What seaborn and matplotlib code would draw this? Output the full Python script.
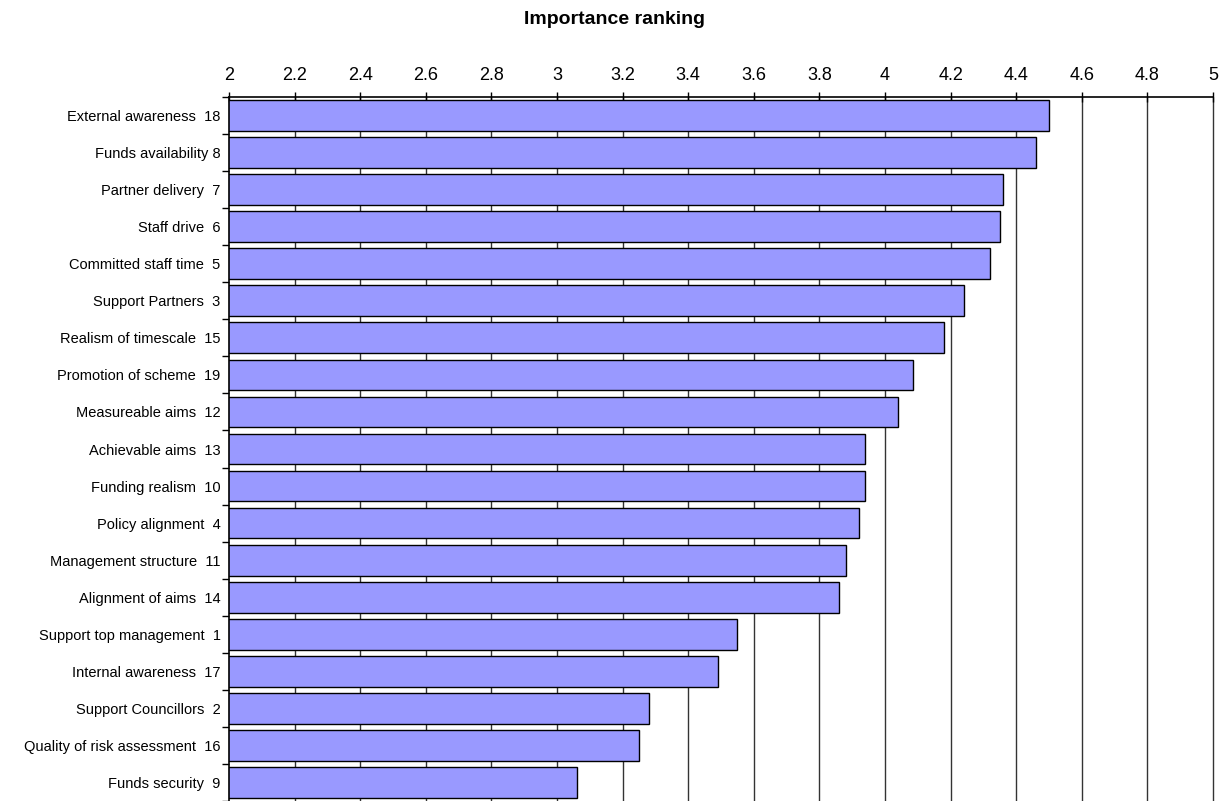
import matplotlib
matplotlib.use("Agg")
import matplotlib.pyplot as plt
import seaborn as sns
import pandas as pd
import numpy as np

categories = [
    "External awareness  18", "Funds availability 8", "Partner delivery  7",
    "Staff drive  6", "Committed staff time  5", "Support Partners  3",
    "Realism of timescale  15", "Promotion of scheme  19", "Measureable aims  12",
    "Achievable aims  13", "Funding realism  10", "Policy alignment  4",
    "Management structure  11", "Alignment of aims  14", "Support top management  1",
    "Internal awareness  17", "Support Councillors  2", "Quality of risk assessment  16",
    "Funds security  9",
]
values = [4.50, 4.46, 4.36, 4.35, 4.32, 4.24, 4.18, 4.085, 4.04, 3.94, 3.94, 3.92,
          3.88, 3.86, 3.55, 3.49, 3.28, 3.25, 3.06]
x_ticks = [2, 2.2, 2.4, 2.6, 2.8, 3, 3.2, 3.4, 3.6, 3.8, 4, 4.2, 4.4, 4.6, 4.8, 5]
x_tick_labels = ["2", "2.2", "2.4", "2.6", "2.8", "3", "3.2", "3.4", "3.6", "3.8",
                 "4", "4.2", "4.4", "4.6", "4.8", "5"]
title = "Importance ranking"

df = pd.DataFrame({"category": categories, "value": values})

sns.set_theme(style="white")
plt.rcParams["font.family"] = ["Liberation Sans", "DejaVu Sans"]
plt.rcParams["text.color"] = "black"
plt.rcParams["xtick.color"] = "black"
plt.rcParams["ytick.color"] = "black"
plt.rcParams["axes.labelcolor"] = "black"

fig = plt.figure(figsize=(12.28, 8.01), dpi=100)
ax = fig.add_axes([229 / 1228, 0.0, (1213 - 229) / 1228, 1 - 97 / 801])

for t in x_ticks[1:]:
    ax.axvline(t, color="#333333", lw=1.0, zorder=0, clip_on=False)

sns.barplot(data=df, y="category", x="value", orient="h", color="#9999FF",
            saturation=1, edgecolor="black", linewidth=1.0, width=0.83, ax=ax, zorder=2)

ax.set_xlim(2, 5)
ax.set_ylim(len(categories) - 0.5, -0.5)
ax.xaxis.tick_top()
ax.set_xticks(x_ticks)
ax.set_xticklabels(x_tick_labels, fontsize=13)
ax.set_yticks(np.arange(len(categories)))
ax.set_yticklabels(categories, fontsize=10.5)
ax.set_xlabel("")
ax.set_ylabel("")
ax.tick_params(axis="x", which="major", direction="inout", length=7, width=1,
               color="black", labelcolor="black", pad=6, top=True, bottom=False)
ax.tick_params(axis="y", which="major", length=0, pad=6, labelcolor="black")
ax.set_yticks(np.arange(len(categories) + 1) - 0.5, minor=True)
ax.tick_params(axis="y", which="minor", direction="out", length=5, width=1,
               color="black", left=True)

for s in ["right", "bottom"]:
    ax.spines[s].set_visible(False)
for s in ["left", "top"]:
    ax.spines[s].set_visible(True)
    ax.spines[s].set_color("black")
    ax.spines[s].set_linewidth(1.2)

fig.text(614 / 1228, 1 - 20 / 801, title, ha="center", va="center",
         fontsize=14, fontweight="bold", color="black")

fig.savefig("out.png", dpi=100)
